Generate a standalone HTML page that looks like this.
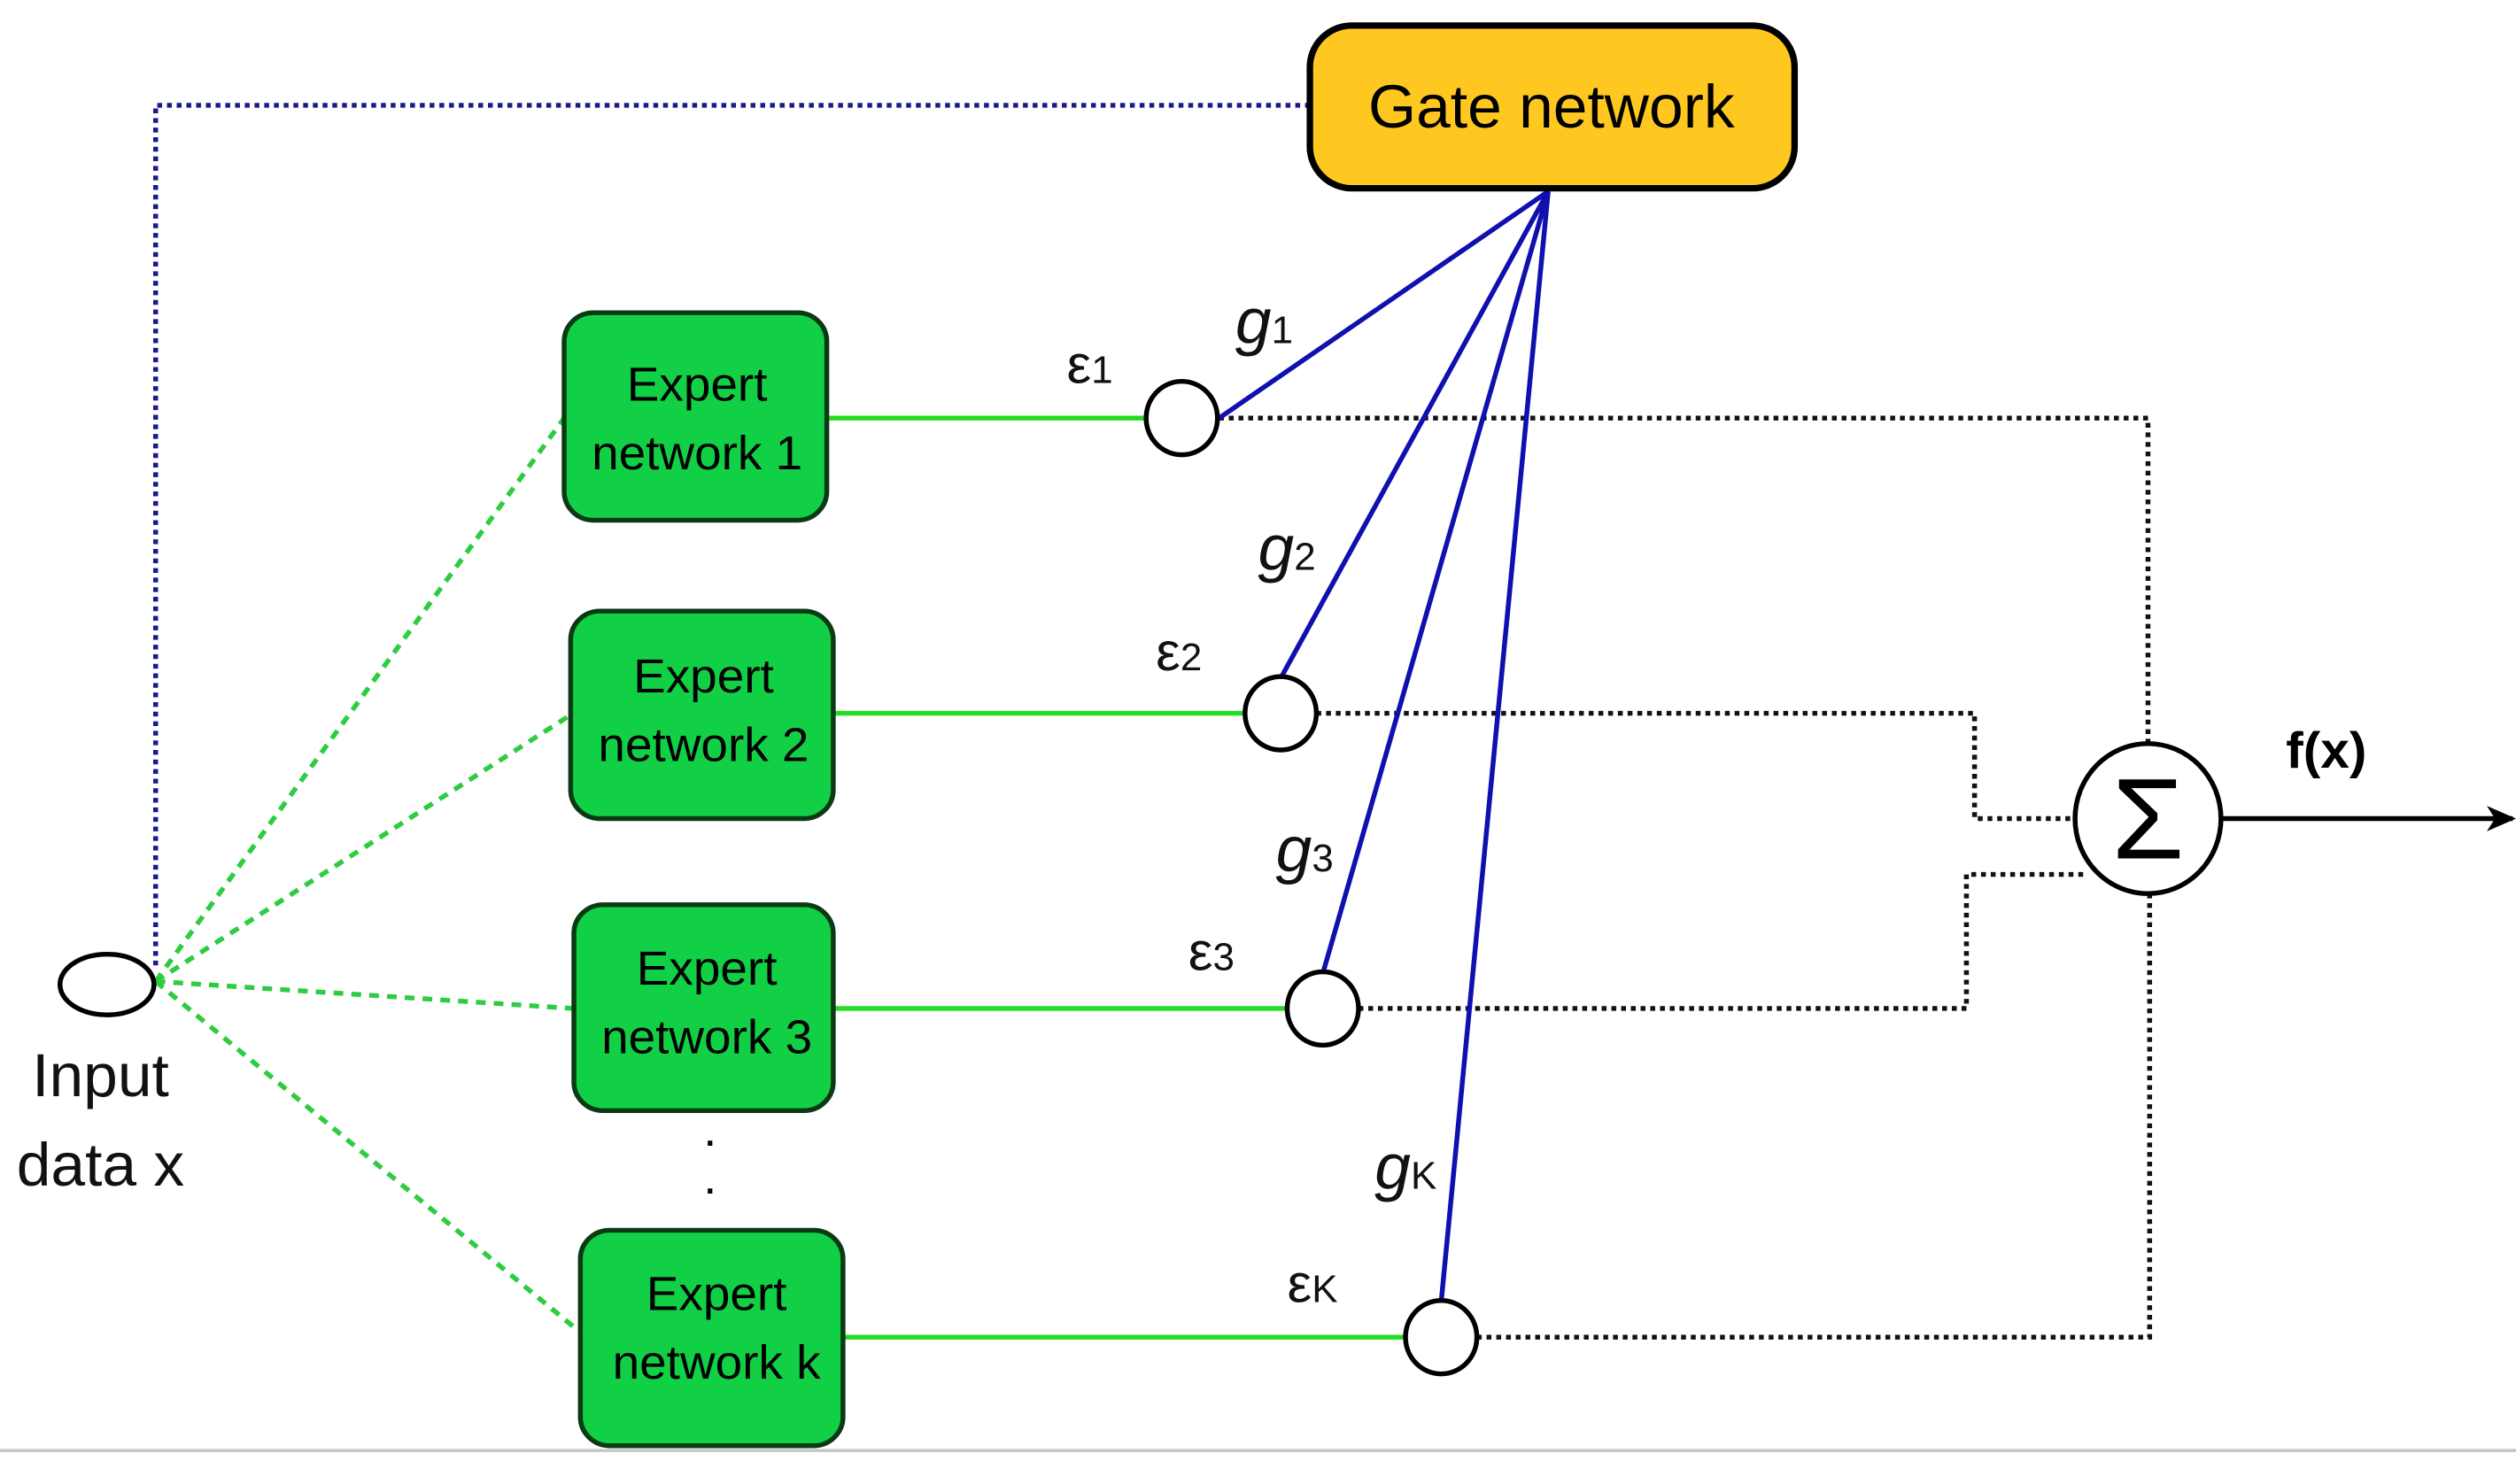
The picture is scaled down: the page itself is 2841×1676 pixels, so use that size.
<!DOCTYPE html>
<html><head><meta charset="utf-8"><style>
html,body{margin:0;padding:0;background:#fff;}
svg{display:block;}
text{font-family:"Liberation Sans",sans-serif;}
</style></head><body>
<svg width="2841" height="1676" viewBox="0 0 1552 930" preserveAspectRatio="none" xmlns="http://www.w3.org/2000/svg">
<defs>
<marker id="ah" markerWidth="20" markerHeight="20" refX="16" refY="10" orient="auto" markerUnits="userSpaceOnUse"><path d="M0,2 L18,10 L0,18 L5,10 Z" fill="#000"/></marker>
</defs>
<rect width="1552" height="930" fill="#fff"/>
<line x1="0" y1="909" x2="1552" y2="909" stroke="#c8c8c8" stroke-width="2"/>
<polyline points="808,66 96,66 96,608" fill="none" stroke="#1a1a8c" stroke-width="3" stroke-dasharray="3,3"/>
<g stroke="#2ecc40" stroke-width="3" stroke-dasharray="6,5" fill="none">
<line x1="96" y1="615" x2="348" y2="262"/>
<line x1="96" y1="615" x2="352" y2="448"/>
<line x1="96" y1="615" x2="354" y2="632"/>
<line x1="96" y1="615" x2="358" y2="835"/>
</g>
<g stroke="#111" stroke-width="3" stroke-dasharray="3,3" fill="none">
<polyline points="752,262 1325,262 1325,466"/>
<polyline points="812,447 1218,447 1218,513 1280,513"/>
<polyline points="838,632 1213,632 1213,548 1286,548"/>
<polyline points="911,838 1326,838 1326,560"/>
</g>
<g stroke="#22dd22" stroke-width="3">
<line x1="510" y1="262" x2="707" y2="262"/>
<line x1="514" y1="447" x2="768" y2="447"/>
<line x1="514" y1="632" x2="794" y2="632"/>
<line x1="520" y1="838" x2="867" y2="838"/>
</g>
<g stroke="#1010b0" stroke-width="3">
<line x1="955" y1="120" x2="752" y2="262"/>
<line x1="955" y1="120" x2="790" y2="425"/>
<line x1="955" y1="120" x2="816" y2="610"/>
<line x1="955" y1="120" x2="889" y2="816"/>
</g>
<rect x="808" y="16" width="299" height="102" rx="26" fill="#FFC820" stroke="#000" stroke-width="4"/>
<text x="957" y="80" font-size="38" text-anchor="middle" fill="#000">Gate network</text>
<g fill="#12D046" stroke="#0a3a14" stroke-width="3">
<rect x="348" y="196" width="162" height="130" rx="18"/>
<rect x="352" y="383" width="162" height="130" rx="18"/>
<rect x="354" y="567" width="160" height="129" rx="18"/>
<rect x="358" y="771" width="162" height="135" rx="18"/>
</g>
<g font-size="30" text-anchor="middle" fill="#000">
<text x="430" y="251">Expert</text><text x="430" y="294">network 1</text>
<text x="434" y="434">Expert</text><text x="434" y="477">network 2</text>
<text x="436" y="617">Expert</text><text x="436" y="660">network 3</text>
<text x="442" y="821">Expert</text><text x="442" y="864">network k</text>
</g>
<text x="438" y="718" font-size="30" text-anchor="middle">.</text>
<text x="438" y="748" font-size="30" text-anchor="middle">.</text>
<g fill="#fff" stroke="#000" stroke-width="3">
<ellipse cx="66" cy="617" rx="29" ry="19"/>
<ellipse cx="729" cy="262" rx="22" ry="23"/>
<ellipse cx="790" cy="447" rx="22" ry="23"/>
<ellipse cx="816" cy="632" rx="22" ry="23"/>
<ellipse cx="889" cy="838" rx="22" ry="23"/>
<ellipse cx="1325" cy="513" rx="45" ry="47"/>
</g>
<text x="1325" y="538" font-size="72" text-anchor="middle" font-family="Liberation Serif,serif">Σ</text>
<line x1="1370" y1="513" x2="1550" y2="513" stroke="#000" stroke-width="3" marker-end="url(#ah)"/>
<text x="1435" y="481" font-size="32" font-weight="bold" text-anchor="middle">f(x)</text>
<g font-size="38" text-anchor="middle" fill="#111">
<text x="62" y="687">Input</text>
<text x="62" y="743">data x</text>
</g>
<g font-family="Liberation Serif,serif" fill="#111">
<text x="658" y="240" font-size="34">ε<tspan font-size="24">1</tspan></text>
<text x="762" y="215" font-size="40" font-style="italic">g<tspan font-size="24" font-style="normal">1</tspan></text>
<text x="776" y="357" font-size="40" font-style="italic">g<tspan font-size="24" font-style="normal">2</tspan></text>
<text x="713" y="420" font-size="34">ε<tspan font-size="24">2</tspan></text>
<text x="787" y="546" font-size="40" font-style="italic">g<tspan font-size="24" font-style="normal">3</tspan></text>
<text x="733" y="608" font-size="34">ε<tspan font-size="24">3</tspan></text>
<text x="848" y="745" font-size="40" font-style="italic">g<tspan font-size="24" font-style="normal">K</tspan></text>
<text x="794" y="816" font-size="34">ε<tspan font-size="24">K</tspan></text>
</g>
</svg>
</body></html>
